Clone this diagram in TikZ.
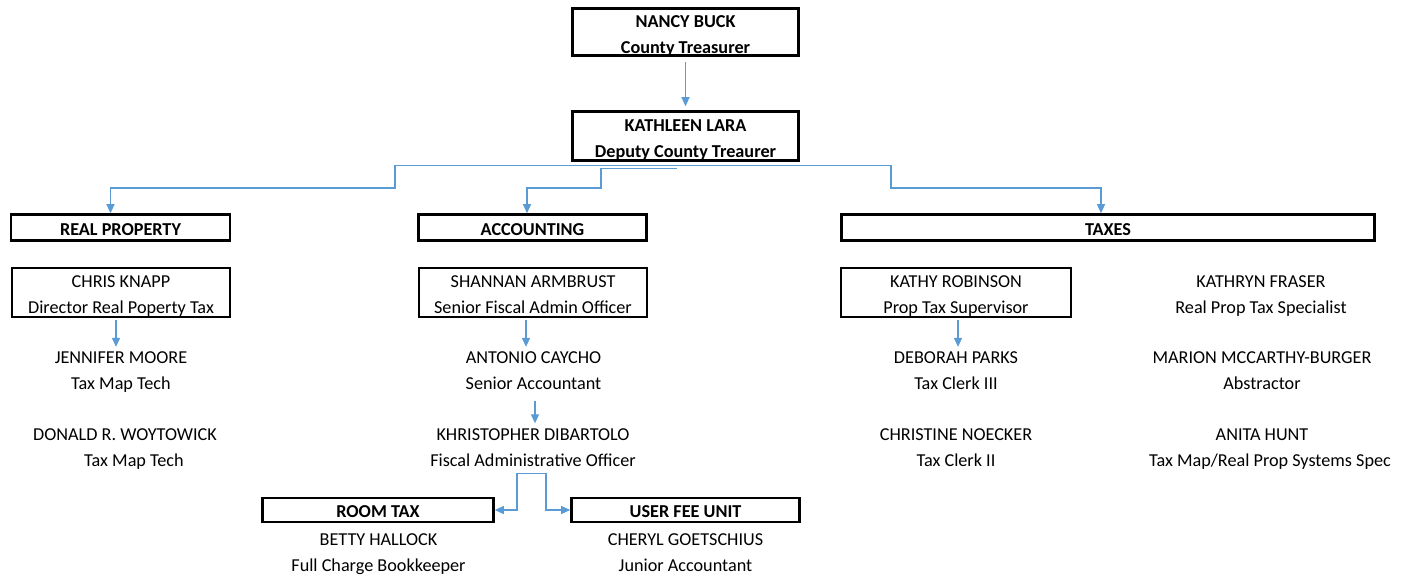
\documentclass[tikz,border=0pt]{standalone}
\usepackage{fontspec}
\setmainfont{Carlito}
\usetikzlibrary{arrows.meta}
\definecolor{conncol}{RGB}{91,155,213}
\begin{document}
\begin{tikzpicture}[x=1pt,y=-1pt,
  every node/.style={font=\fontsize{18.2}{26}\selectfont, align=center},
  hdr/.style={draw, line width=2.6pt, inner sep=0pt},
  hdrtext/.style={inner sep=0pt, font=\fontsize{18.2}{26}\selectfont\bfseries},
  pbox/.style={draw, line width=1.8pt, inner sep=0pt},
  ptext/.style={inner sep=0pt, execute at end node={\vphantom{gy}}},
  person/.style={inner sep=4pt, execute at end node={\vphantom{gy}}},
  conn/.style={draw=conncol, line width=1.2pt, -{Triangle[length=9pt,width=8pt]}}
]
\fill[white] (0,0) rectangle (1406,576);
\useasboundingbox (0,0) rectangle (1406,576);

% top
\node[hdr, minimum width=226pt, minimum height=47pt] (nb) at (685.5,32) {};
\node[hdrtext] (nbt) at ([yshift=-4pt]nb.center) {NANCY BUCK\\County Treasurer};
\node[hdr, minimum width=226pt, minimum height=49pt] (kl) at (685.5,136) {};
\node[hdrtext] (klt) at ([yshift=-4.5pt]kl.center) {KATHLEEN LARA\\Deputy County Treaurer};

% section headers
\node[hdr, minimum width=219pt, minimum height=26pt] (rp) at (120.5,227.5) {};
\node[hdrtext] (rpt) at ([yshift=-2pt]rp.center) {REAL PROPERTY};
\node[hdr, minimum width=228pt, minimum height=26pt] (ac) at (532.5,227.5) {};
\node[hdrtext] (act) at ([yshift=-2pt]ac.center) {ACCOUNTING};
\node[hdr, minimum width=533pt, minimum height=26pt] (tx) at (1108,227.5) {};
\node[hdrtext] (txt) at ([yshift=-2pt]tx.center) {TAXES};
\node[hdr, minimum width=231pt, minimum height=24pt] (rt) at (378,510) {};
\node[hdrtext] (rtt) at ([yshift=-2pt]rt.center) {ROOM TAX};
\node[hdr, minimum width=228pt, minimum height=24pt] (uf) at (685.5,510) {};
\node[hdrtext] (uft) at ([yshift=-2pt]uf.center) {USER FEE UNIT};

% boxed persons
\node[pbox, minimum width=218pt, minimum height=49pt] (ck) at (121,292.5) {};
\node[ptext] (ckt) at ([yshift=-4pt]ck.center) {CHRIS KNAPP\\Director Real Poperty Tax};
\node[pbox, minimum width=228pt, minimum height=49pt] (sa) at (533,292.5) {};
\node[ptext] (sat) at ([yshift=-4pt]sa.center) {SHANNAN ARMBRUST\\Senior Fiscal Admin Officer};
\node[pbox, minimum width=230pt, minimum height=49pt] (kr) at (956,292.5) {};
\node[ptext] (krt) at ([yshift=-4pt]kr.center) {KATHY ROBINSON\\Prop Tax Supervisor};

% persons
\node[person] (jm) at (121,372.5) {JENNIFER MOORE\\Tax Map Tech};
\node[person] (dw) at (125,449) {DONALD R. WOYTOWICK\\\hspace*{18pt}Tax Map Tech};
\node[person] (acay) at (533.5,372.5) {ANTONIO CAYCHO\\Senior Accountant};
\node[person] (kd) at (533,449) {KHRISTOPHER DIBARTOLO\\Fiscal Administrative Officer};
\node[person] (bh) at (378.5,554) {BETTY HALLOCK\\Full Charge Bookkeeper};
\node[person] (cg) at (685.5,554) {CHERYL GOETSCHIUS\\Junior Accountant};
\node[person] (dp) at (956,372.5) {DEBORAH PARKS\\Tax Clerk III};
\node[person] (cn) at (956,449) {CHRISTINE NOECKER\\Tax Clerk II};
\node[person] (kf) at (1261,296.5) {KATHRYN FRASER\\Real Prop Tax Specialist};
\node[person] (mm) at (1262,372.5) {MARION MCCARTHY-BURGER\\Abstractor};
\node[person] (ah) at (1270,449) {ANITA HUNT\hspace*{16pt}\\Tax Map/Real Prop Systems Spec};

% connectors
\draw[conn, shorten <=5pt, shorten >=4pt] (nb.south) -- (kl.north);
\coordinate (kb1) at ([xshift=-6.5pt,yshift=-4pt]kl.south);
\coordinate (kb2) at ([xshift=-8.5pt,yshift=-7pt]kl.south);
\draw[conn] (kb1) -| (395,188) -| ([xshift=-10pt]rp.north);
\draw[conn] (kb2) -| (601,188) -| ([xshift=-5.5pt]ac.north);
\draw[conn] (kb1) -| (891,188) -| ([xshift=-7pt]tx.north);

\draw[conn, shorten <=2pt, shorten >=1pt] ([xshift=-5pt]ck.south) -- ([xshift=-5pt]jm.north);
\draw[conn, shorten <=2pt, shorten >=1pt] ([xshift=-7pt]sa.south) -- ([xshift=-7.5pt]acay.north);
\draw[conn, shorten <=4pt, shorten >=1pt] ([xshift=1.5pt]acay.south) -- ([xshift=2pt]kd.north);
\draw[conn, shorten <=2pt, shorten >=1pt] ([xshift=2pt]kr.south) -- ([xshift=2pt]dp.north);

\coordinate (fk) at ([xshift=-2pt,yshift=-0pt]kd.south);
\draw[conn] (fk) -- ++(-14,0) |- (rt.east);
\draw[conn] (fk) -- ++(15,0) |- (uf.west);
\end{tikzpicture}
\end{document}
